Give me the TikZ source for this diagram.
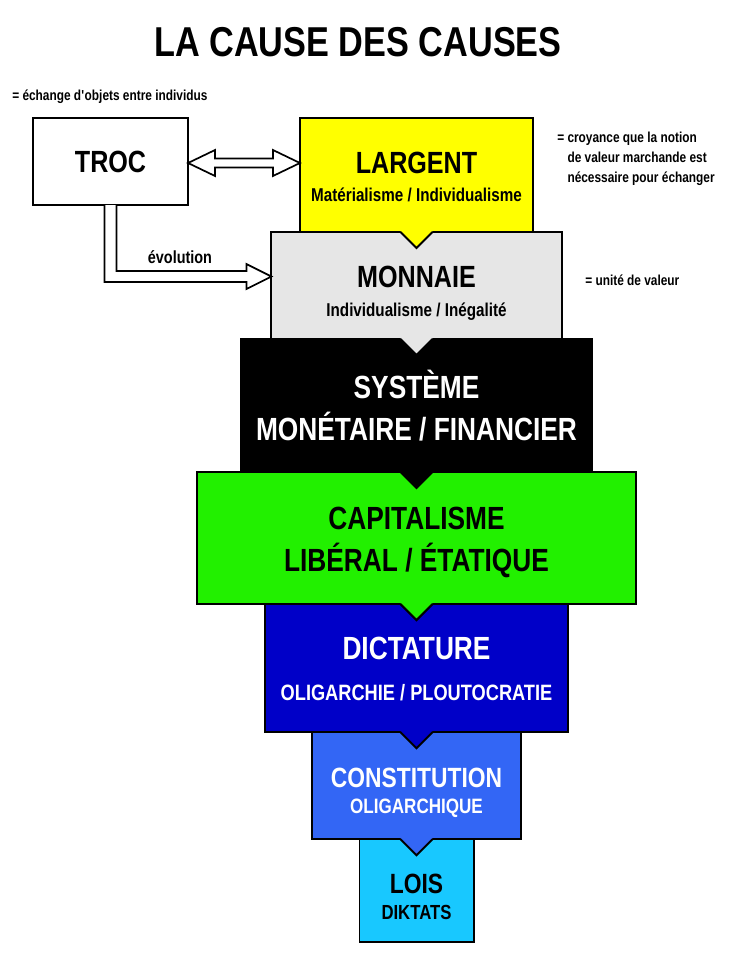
\documentclass[tikz,border=0pt]{standalone}
\usepackage{fontspec}
\setmainfont{Liberation Sans}[FakeStretch=0.82]
\usetikzlibrary{positioning}
\usetikzlibrary{calc}

\definecolor{jaune}{HTML}{FFFF00}
\definecolor{gris}{HTML}{E6E6E6}
\definecolor{vert}{HTML}{22F000}
\definecolor{bleufonce}{HTML}{0000C8}
\definecolor{bleu}{HTML}{3366F5}
\definecolor{bleuclair}{HTML}{18C8FF}

\newcommand{\fsz}[1]{\fontsize{#1}{#1}\selectfont}

\begin{document}
\begin{tikzpicture}[x=0.025cm, y=0.025cm, font=\bfseries,
  box/.style={draw, line width=1.4pt, outer sep=0pt, fill=#1},
  rowskip/.style={align=center, font=\bfseries\fontsize{10}{#1}\selectfont},
  note/.style={font=\bfseries\fontsize{10.3}{14.2}\selectfont, align=left, inner sep=0pt},
  hollow/.style={draw, fill=white, line width=1.2pt, line join=miter}]
  \useasboundingbox (0,0) rectangle (730,-960);

  % タイトル
  \node (titre) at (358,-42) {\fsz{29.7}LA CAUSE DES CAUSES};

  % 物々交換
  \node[box=white, minimum width=3.875cm, minimum height=2.175cm] (troc) at (110.5,-161.5) {\fsz{21.8}TROC};
  \node[note, anchor=west] (echange) at (12,-97) {= échange d\textquotesingle objets entre individus};

  % 箱の列
  \node[box=jaune, minimum width=5.825cm, minimum height=2.85cm, anchor=north] (largent) at (416.5,-118) {};
  \node[box=gris, minimum width=7.25cm, minimum height=2.675cm, below=0pt of largent] (monnaie) {};
  \node[box=black, minimum width=8.775cm, minimum height=3.325cm, below=0pt of monnaie] (systeme) {};
  \node[box=vert, minimum width=10.95cm, minimum height=3.3cm, below=0pt of systeme] (capitalisme) {};
  \node[box=bleufonce, minimum width=7.55cm, minimum height=3.2cm, below=0pt of capitalisme] (dictature) {};
  \node[box=bleu, minimum width=5.2cm, minimum height=2.675cm, below=0pt of dictature] (constitution) {};
  \node[box=bleuclair, minimum width=2.85cm, minimum height=2.575cm, below=0pt of constitution] (lois) {};

  % 下向きの切り込み
  \foreach \n/\c in {largent/jaune, monnaie/gris, systeme/black, capitalisme/vert, dictature/bleufonce, constitution/bleu}{
    \fill[\c] ($(\n.south)+(-16,1)$) -- ($(\n.south)+(0,-16)$) -- ($(\n.south)+(16,1)$) -- cycle;
    \draw[line width=1.4pt] ($(\n.south)+(-16,0)$) -- ($(\n.south)+(0,-16)$) -- ($(\n.south)+(16,0)$);
  }

  % 箱の文字
  \node[rowskip=20pt] (largent-t) at ($(largent)+(0,-2)$)
    {\fsz{21.8}LARGENT\\\fsz{13.2}Matérialisme / Individualisme};
  \node[rowskip=20.6pt] (monnaie-t) at ($(monnaie)+(0,-8)$)
    {\fsz{21.8}MONNAIE\\\fsz{13.2}Individualisme / Inégalité};
  \node[rowskip=30.5pt, text=white] (systeme-t) at (systeme)
    {\fsz{22.8}SYSTÈME\\\fsz{22.8}MONÉTAIRE / FINANCIER};
  \node[rowskip=29.8pt] (capitalisme-t) at ($(capitalisme)+(0,-4)$)
    {\fsz{22.8}CAPITALISME\\\fsz{22.8}LIBÉRAL / ÉTATIQUE};
  \node[rowskip=29.4pt, text=white] (dictature-t) at ($(dictature)+(0,-1)$)
    {\fsz{22.8}DICTATURE\\\fsz{15.8}OLIGARCHIE / PLOUTOCRATIE};
  \node[rowskip=18pt, text=white] (constitution-t) at ($(constitution)+(0,-7)$)
    {\fsz{19.8}CONSTITUTION\\\fsz{14.8}OLIGARCHIQUE};
  \node[rowskip=18.8pt] (lois-t) at ($(lois)+(0,-6)$)
    {\fsz{19.8}LOIS\\\fsz{14.5}DIKTATS};

  % 注記
  \node[note, anchor=north west] (croyance) at (557,-132)
    {= croyance que la notion\\\hphantom{= }de valeur marchande est\\\hphantom{= }nécessaire pour échanger};
  \node[note, anchor=west] (unite) at (585,-280) {= unité de valeur};

  % 両矢印
  \coordinate (dl) at ($(troc.east)+(0,-1.5)$);
  \coordinate (dr) at (dl -| largent.west);
  \draw[hollow] (dl) -- ++(27,13) -- ++(0,-8.5) -- ($(dr)+(-27,4.5)$) -- ++(0,8.5) -- (dr)
    -- ++(-27,-13) -- ++(0,8.5) -- ($(dl)+(27,-4.5)$) -- ++(0,-8.5) -- cycle;

  % 進化の矢印
  \coordinate (evo) at ($(monnaie.west)+(0,9)$);
  \draw[hollow] ($(troc.south)+(-6,0)$) |- ($(evo)+(-25,-5.5)$) -- ++(0,-7) -- (evo)
    -- ++(-25,12.5) -- ++(0,-7) -| ($(troc.south)+(6,0)$);
  \node[font=\bfseries\fsz{12.5}] (evol) at (180,-257) {évolution};
\end{tikzpicture}
\end{document}
